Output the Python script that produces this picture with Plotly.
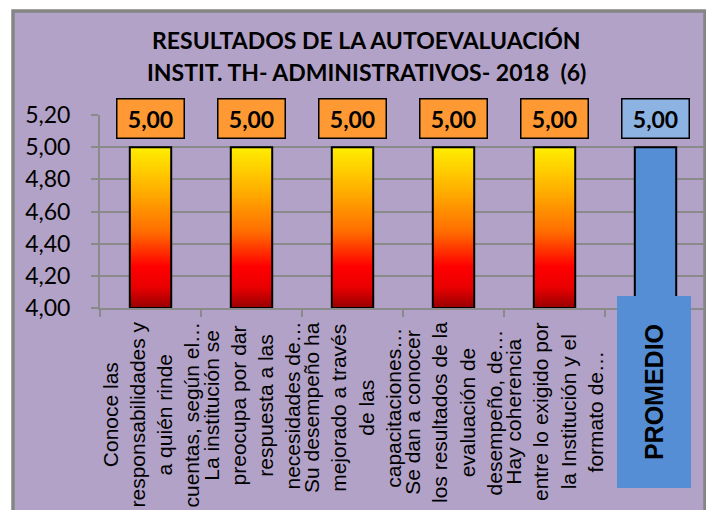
import plotly.graph_objects as go
from plotly.colors import sample_colorscale

# ---------------- data ----------------
categories = [
    "Conoce las responsabilidades y a quién rinde cuentas, según el…",
    "La institución se preocupa por dar respuesta a las necesidades de…",
    "Su desempeño ha mejorado a través de las capacitaciones…",
    "Se dan a conocer los resultados de la evaluación de desempeño, de…",
    "Hay coherencia entre lo exigido por la Institución y el formato de…",
    "PROMEDIO",
]
category_labels = [
    "Conoce las<br>responsabilidades y<br>a quién rinde<br>cuentas, según el…",
    "La institución se<br>preocupa por dar<br>respuesta a las<br>necesidades de…",
    "Su desempeño ha<br>mejorado a través<br>de las<br>capacitaciones…",
    "Se dan a conocer<br>los resultados de la<br>evaluación de<br>desempeño, de…",
    "Hay coherencia<br>entre lo exigido por<br>la Institución y el<br>formato de…",
    "PROMEDIO",
]
values = [5.00, 5.00, 5.00, 5.00, 5.00, 5.00]
value_labels = ["5,00", "5,00", "5,00", "5,00", "5,00", "5,00"]
y_tick_vals = [4.0, 4.2, 4.4, 4.6, 4.8, 5.0, 5.2]
y_tick_text = ["4,00", "4,20", "4,40", "4,60", "4,80", "5,00", "5,20"]
title_lines = ["RESULTADOS DE LA AUTOEVALUACIÓN", "INSTIT. TH- ADMINISTRATIVOS- 2018  (6)"]

# ---------------- style ----------------
Y_MIN, Y_MAX = 4.0, 5.2
BG = "#b3a2c7"
GRID = "#8a8a8a"
BAR_W = 0.41
grad_scale = [[0.0, "#9a0000"], [0.12, "#e80000"], [0.25, "#ff0000"],
              [0.47, "#ff6e00"], [0.72, "#ffae00"], [1.0, "#fff000"]]
N_SEG = 80

OFF = 8                      # page offset of the figure in the browser
FIG_W, FIG_H = 714 - OFF, 510 - OFF
L, T = 100 - OFF, 115 - OFF
PLOT_R = 706 - OFF
PLOT_B = 308 - OFF
W_PLOT = PLOT_R - L
H_PLOT = PLOT_B - T

def px_x(px):
    return (px - OFF - L) / W_PLOT

def px_y(py):
    return (PLOT_B - (py - OFF)) / H_PLOT

fig = go.Figure()

grad_idx = [i for i, c in enumerate(categories) if c != "PROMEDIO"]
grad_x = [categories[i] for i in grad_idx]
grad_v = [values[i] for i in grad_idx]
seg_colors = sample_colorscale(grad_scale, [k / N_SEG for k in range(N_SEG)])
for k in range(N_SEG):
    frac = k / N_SEG
    bases = [Y_MIN + frac * (v - Y_MIN) for v in grad_v]
    heights = [v - b for v, b in zip(grad_v, bases)]
    fig.add_trace(go.Bar(
        x=grad_x, y=heights, base=bases, width=BAR_W,
        marker=dict(color=seg_colors[k], line=dict(width=0)),
        hoverinfo="skip", showlegend=False,
    ))

fig.add_trace(go.Bar(
    x=categories, y=[v - Y_MIN for v in values], base=[Y_MIN] * len(values),
    width=BAR_W,
    marker=dict(color=["rgba(0,0,0,0)" if c != "PROMEDIO" else "#558ed5" for c in categories],
                line=dict(color="black", width=2)),
    showlegend=False,
))

ann = []
for i, (c, v, t) in enumerate(zip(categories, values, value_labels)):
    ann.append(dict(
        x=c, y=v, xref="x", yref="y", yanchor="bottom", yshift=8,
        text=f"<b>{t}</b>", showarrow=False,
        font=dict(family="Lato", size=23, color="black"),
        bgcolor="#8db3e2" if c == "PROMEDIO" else "#ff9933",
        bordercolor="black", borderwidth=1.5, borderpad=1,
        width=64, height=36,
    ))
for c, lab in zip(categories, category_labels):
    if c == "PROMEDIO":
        ann.append(dict(
            x=c, y=px_y(392), xref="x", yref="paper", xshift=-2,
            yanchor="middle", textangle=-90, text=f"<b>{lab}</b>", showarrow=False,
            font=dict(family="Liberation Sans", size=25, color="black"),
            bgcolor="#558ed5", width=191, height=73, borderpad=0,
        ))
    else:
        ann.append(dict(
            x=c, y=0, xref="x", yref="paper", yanchor="top", yshift=-12,
            textangle=-90, text=lab, showarrow=False, align="center",
            font=dict(family="Liberation Sans", size=21, color="black"),
        ))
for line, py in zip(title_lines, [40, 72]):
    ann.append(dict(
        x=px_x(366), y=px_y(py), xref="paper", yref="paper",
        xanchor="center", yanchor="middle", text=f"<b>{line}</b>", showarrow=False,
        font=dict(family="Lato", size=23, color="black"),
    ))

shapes = [
    dict(type="rect", xref="paper", yref="paper", layer="below",
         x0=px_x(13), x1=px_x(705), y0=px_y(540), y1=px_y(11),
         fillcolor=BG, line=dict(width=0)),
    dict(type="rect", xref="paper", yref="paper", layer="above",
         x0=px_x(13), x1=px_x(705), y0=px_y(540), y1=px_y(11),
         fillcolor="rgba(0,0,0,0)", line=dict(color="#858585", width=3.5)),
]

fig.update_layout(
    width=FIG_W, height=FIG_H,
    margin=dict(l=L, r=FIG_W - PLOT_R, t=T, b=FIG_H - PLOT_B, autoexpand=False),
    paper_bgcolor="white", plot_bgcolor="rgba(0,0,0,0)",
    barmode="overlay", showlegend=False,
    annotations=ann, shapes=shapes,
    xaxis=dict(type="category", range=[-0.5, len(categories) - 0.5],
               showticklabels=False, tickson="boundaries", ticks="outside",
               ticklen=7, tickwidth=2, tickcolor=GRID, showgrid=False,
               showline=True, linecolor=GRID, linewidth=2, zeroline=False),
    yaxis=dict(range=[Y_MIN, Y_MAX], tickvals=y_tick_vals, ticktext=y_tick_text,
               ticks="outside", ticklen=7, tickwidth=2, tickcolor=GRID,
               showgrid=True, gridcolor=GRID, gridwidth=2,
               showline=True, linecolor=GRID, linewidth=2, zeroline=False,
               tickfont=dict(family="Lato", size=23, color="black"),
               ticklabelstandoff=16),
)

fig.write_html("out.html")
